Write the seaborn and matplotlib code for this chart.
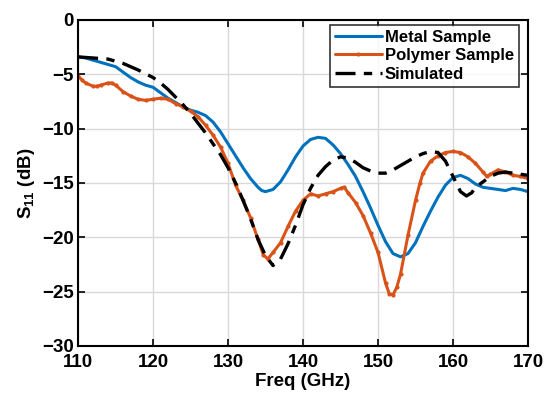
import matplotlib
matplotlib.use("Agg")
import matplotlib.pyplot as plt
import seaborn as sns
import pandas as pd

metal_freq = [110, 111, 112, 113, 114, 115, 116, 117, 118, 119, 120, 121, 122, 123, 124, 125,
              126, 127, 128, 129, 130, 131, 132, 133, 134, 134.5, 135, 136, 137, 138, 139, 140,
              141, 142, 143, 144, 145, 146, 147, 148, 149, 150, 151, 152, 153, 154, 155, 156,
              157, 158, 159, 160, 161, 162, 163, 164, 165, 166, 167, 168, 169, 170]
metal_s11 = [-3.4, -3.5, -3.7, -3.9, -4.1, -4.3, -4.8, -5.3, -5.7, -6.0, -6.2, -6.7, -7.2, -7.6, -8.0, -8.3,
             -8.5, -8.8, -9.4, -10.3, -11.4, -12.5, -13.6, -14.6, -15.4, -15.7, -15.8, -15.6, -14.9, -13.8, -12.6, -11.6,
             -11.0, -10.8, -10.9, -11.5, -12.3, -13.3, -14.4, -15.8, -17.3, -18.9, -20.4, -21.5, -21.8, -21.5, -20.5, -19.0,
             -17.6, -16.3, -15.2, -14.5, -14.3, -14.6, -15.1, -15.4, -15.5, -15.6, -15.7, -15.5, -15.6, -15.8]

poly_freq = [110, 110.5, 111, 112, 112.5, 113, 114, 114.5, 115, 116, 117, 118, 119, 120, 121, 122,
             123, 124, 125, 126, 127, 128, 129, 130, 131, 132, 133, 134, 134.7, 135.3, 136, 137,
             138, 139, 140, 141, 142, 143, 144, 145, 145.5, 146, 147, 148, 149, 150, 151, 151.5,
             152, 152.5, 153, 154, 155, 155.6, 156, 157, 158, 159, 160, 161, 162, 163,
             164, 164.5, 165, 166, 167, 168, 169, 170]
poly_s11 = [-5.2, -5.5, -5.8, -6.1, -6.1, -6.0, -5.8, -5.8, -6.0, -6.6, -7.0, -7.3, -7.4, -7.3, -7.2, -7.3,
            -7.7, -8.0, -8.4, -8.9, -9.7, -10.6, -11.7, -13.2, -15.2, -16.6, -18.2, -20.2, -21.6, -22.0, -21.4, -20.5,
            -19.0, -17.6, -16.6, -16.0, -16.2, -16.0, -15.8, -15.5, -15.4, -15.9, -16.8, -18.0, -19.6, -21.4, -24.2, -25.2,
            -25.3, -24.6, -23.4, -19.8, -16.6, -15.0, -14.1, -13.0, -12.5, -12.2, -12.1, -12.2, -12.6, -13.2,
            -14.0, -14.4, -14.2, -13.8, -14.0, -14.3, -14.4, -14.6]

sim_freq = [110, 112, 114, 116, 118, 120, 121, 122, 123, 124, 125, 126, 127, 128, 129, 130,
            131, 132, 133, 134, 135, 136, 137, 138, 139, 140, 141, 142, 143, 144, 145, 146,
            147, 148, 149, 150, 151, 152, 153, 154, 155, 156, 157, 158, 159, 160, 161, 161.8,
            162.5, 163, 164, 165, 166, 167, 168, 169, 170]
sim_s11 = [-3.4, -3.5, -3.6, -4.0, -4.6, -5.3, -5.8, -6.4, -7.1, -7.8, -8.6, -9.5, -10.4, -11.4, -12.4, -13.6,
           -15.0, -16.6, -18.3, -20.2, -21.7, -22.6, -22.0, -20.6, -18.9, -17.0, -15.5, -14.3, -13.5, -12.9, -12.6, -12.7,
           -13.1, -13.6, -13.9, -14.1, -14.1, -13.8, -13.4, -13.0, -12.6, -12.3, -12.1, -12.2, -13.0, -14.4, -15.8, -16.2,
           -15.9, -15.4, -14.9, -14.4, -14.1, -14.0, -14.1, -14.2, -14.3]

x_ticks = [110, 120, 130, 140, 150, 160, 170]
y_ticks = [0, -5, -10, -15, -20, -25, -30]

sns.set_theme(style="ticks")
plt.rcParams['font.family'] = ['Liberation Sans', 'DejaVu Sans']
plt.rcParams['font.weight'] = 'bold'
plt.rcParams['axes.labelweight'] = 'bold'
plt.rcParams['text.color'] = 'black'
plt.rcParams['axes.labelcolor'] = 'black'
plt.rcParams['xtick.color'] = 'black'
plt.rcParams['ytick.color'] = 'black'
plt.rcParams['mathtext.fontset'] = 'custom'
plt.rcParams['mathtext.rm'] = 'Liberation Sans:bold'
plt.rcParams['mathtext.bf'] = 'Liberation Sans:bold'
plt.rcParams['mathtext.default'] = 'bf'

fig = plt.figure(figsize=(5.46, 3.99), dpi=100)
ax = fig.add_axes([0.143, 0.133, 0.824, 0.817])

metal = pd.DataFrame({'freq': metal_freq, 's11': metal_s11})
poly = pd.DataFrame({'freq': poly_freq, 's11': poly_s11})
sim = pd.DataFrame({'freq': sim_freq, 's11': sim_s11})

sns.lineplot(data=metal, x='freq', y='s11', ax=ax, color='#0072BD', linewidth=2.2,
             label='Metal Sample', sort=False)
sns.lineplot(data=poly, x='freq', y='s11', ax=ax, color='#D95319', linewidth=2.2,
             marker='o', markersize=3, markeredgewidth=0, label='Polymer Sample', sort=False)
sns.lineplot(data=sim, x='freq', y='s11', ax=ax, color='black', linewidth=2.4,
             label='Simulated', sort=False)
ax.lines[2].set_dashes([6, 2.5, 2.5, 2.5])

ax.set_xlim(110, 170)
ax.set_ylim(-30, 0)
ax.set_xticks(x_ticks)
ax.set_yticks(y_ticks)
ax.set_xlabel('Freq (GHz)', fontsize=13.5, fontweight='bold', labelpad=1)
ax.set_ylabel(r'S$_{11}$ (dB)', fontsize=13.5, fontweight='bold', labelpad=4)
ax.tick_params(direction='in', length=5, width=1.2, labelsize=13.5, top=True, right=True)
ax.tick_params(axis='x', pad=6)
ax.tick_params(axis='y', pad=3)
for lab in ax.get_xticklabels() + ax.get_yticklabels():
    lab.set_fontweight('bold')
ax.grid(True, color='#d9d9d9', linewidth=1)
ax.set_axisbelow(True)
for sp in ax.spines.values():
    sp.set_linewidth(1.5)
    sp.set_color('black')

leg = ax.legend(loc='upper right', bbox_to_anchor=(0.98, 0.985), fontsize=12, frameon=True,
                fancybox=False, handlelength=2.8, handletextpad=0.2, borderpad=0.3,
                labelspacing=0.2, borderaxespad=0)
leg.get_frame().set_edgecolor('black')
leg.get_frame().set_linewidth(1.2)
for t in leg.get_texts():
    t.set_fontweight('bold')

fig.savefig('out.png', dpi=100)
